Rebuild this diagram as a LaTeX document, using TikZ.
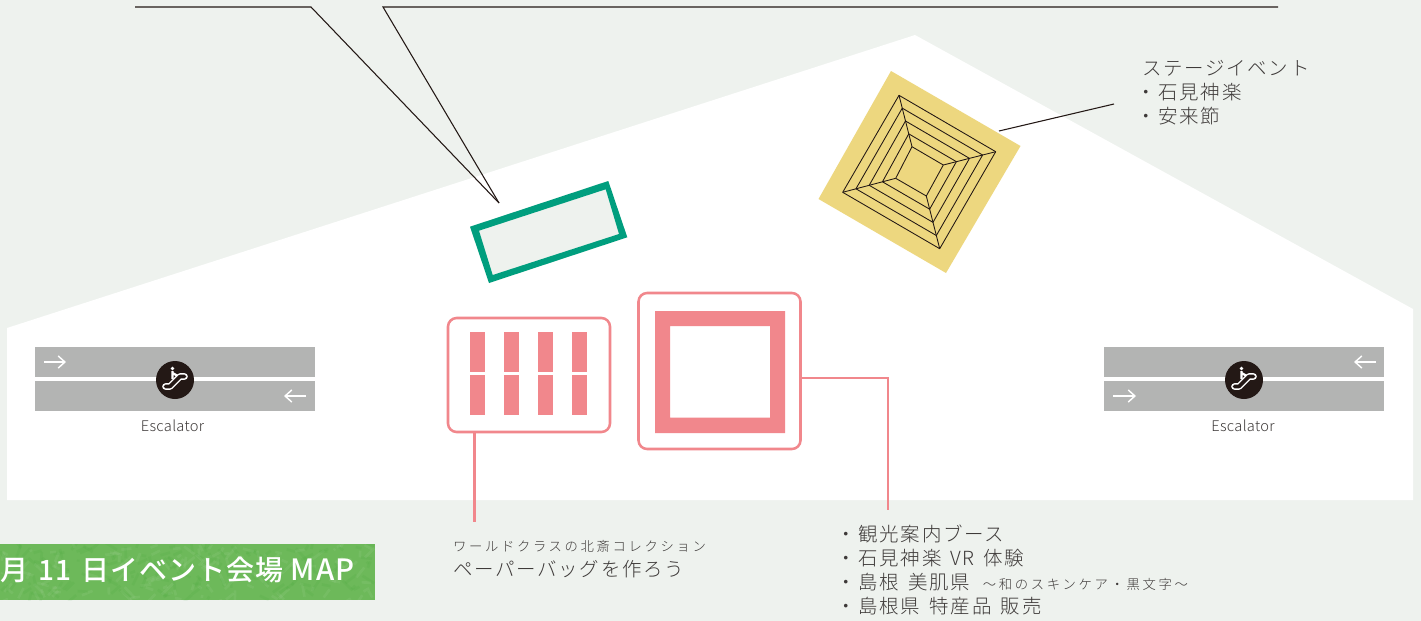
\documentclass[tikz,border=0pt]{standalone}
\usepackage{fontspec}
\usetikzlibrary{arrows.meta,calc}
\newfontfamily\jp[LetterSpace=9]{Noto Sans CJK JP Light}
\newfontfamily\jpsmall[LetterSpace=20]{Noto Sans CJK JP Light}
\newfontfamily\jplatin[LetterSpace=2]{Noto Sans CJK JP Light}
\newfontfamily\jpban[LetterSpace=3.4]{Noto Sans CJK JP Medium}
\newcommand{\bulmark}{\hspace*{-4.5pt}・\hspace{2.2pt}}
\newcommand{\wsp}{\hspace{7pt}}
\definecolor{bgc}{HTML}{EEF2EE}
\definecolor{pinkc}{HTML}{F1878C}
\definecolor{greenc}{HTML}{009E7E}
\definecolor{yellowc}{HTML}{EDD77F}
\definecolor{grayc}{HTML}{B3B4B3}
\definecolor{inkc}{HTML}{3E3A39}
\definecolor{blackc}{HTML}{231815}
\definecolor{banc}{HTML}{6DB95A}
\tikzset{
  pinkbar/.style={fill=pinkc,draw=none},
  boothbox/.style={draw=pinkc,line width=1.9pt,rounded corners=6.5pt,fill=white,inner sep=0pt,outer sep=0pt},
  pinkline/.style={draw=pinkc,line width=1.9pt},
  leader/.style={draw=blackc,line width=.8pt},
  stageline/.style={draw=blackc,line width=.65pt,line join=round},
  escbar/.style={fill=grayc,draw=none},
  escarrow/.style={draw=white,line width=1.3pt,-{Straight Barb[length=5pt,width=9pt,line width=1.1pt]}},
  lbl/.style={inner sep=0pt,outer sep=0pt,text=inkc,align=left,anchor=north west},
  esclbl/.style={inner sep=0pt,outer sep=0pt,text=inkc,font=\fontsize{11pt}{13pt}\jplatin},
  body/.style={lbl,font=\fontsize{14.6pt}{18pt}\jp},
  escicon/.pic={
    \draw[white,line width=5pt,line cap=round,line join=round] (-9.5,6.5) -- (-5,6.5) -- (5,-3.5) -- (9.5,-3.5);
    \draw[blackc,line width=2.7pt,line cap=round,line join=round] (-9.5,6.5) -- (-5,6.5) -- (5,-3.5) -- (9.5,-3.5);
    \fill[white] (-2.5,-11.5) circle (1.8);
    \draw[white,line width=1.7pt] (-2.5,-9) -- (-2.5,-1) (-2.5,-7) -- (2,-4.5);
  },
}
\begin{document}
\begin{tikzpicture}[x=0.75pt,y=-0.75pt]
\useasboundingbox (0,0) rectangle (1421,621);
\fill[bgc] (0,0) rectangle (1421,621);
\fill[white] (7,328) -- (915,35) -- (1413,309) -- (1413,500) -- (7,500) -- cycle;
% banner
\begin{scope}
\clip (0,544) rectangle (375,600);
\fill[banc] (0,544) rectangle (375,600);
\pgfmathsetseed{7}
\foreach \i in {1,...,300}{
  \pgfmathsetmacro{\xa}{rnd*375}
  \pgfmathsetmacro{\ya}{544+rnd*56}
  \pgfmathsetmacro{\dx}{(rnd-.5)*24}
  \pgfmathsetmacro{\dy}{(rnd-.5)*24}
  \pgfmathsetmacro{\w}{rnd}
  \ifdim\w pt>0.5pt
    \draw[white,opacity=.06,line width=2pt] (\xa,\ya) -- ++(\dx,\dy);
  \else
    \draw[green!55!black,opacity=.05,line width=2pt] (\xa,\ya) -- ++(\dx,\dy);
  \fi
}
\end{scope}
\node[inner sep=0pt,outer sep=0pt,anchor=west,text=white,font=\fontsize{21pt}{24pt}\jpban] (title) at (1,570) {月 \hspace{2pt}11 \hspace{2pt}日イベント会場 {\fontsize{22pt}{24pt}\selectfont MAP}};
% left escalator
\fill[escbar] (35,347) rectangle (315,377);
\fill[escbar] (35,381) rectangle (315,411);
\draw[escarrow] (44,362) -- (66,362);
\draw[escarrow] (306,396) -- (284,396);
\node[circle,fill=blackc,minimum size=28.5pt,inner sep=0pt,outer sep=0pt] (escL) at (175,380) {};
\pic at (escL.center) {escicon};
\node[esclbl] (escLlabel) at (172.5,425.5) {Escalator};
% right escalator
\fill[escbar] (1104,347) rectangle (1384,377);
\fill[escbar] (1104,381) rectangle (1384,411);
\draw[escarrow] (1376,362) -- (1354,362);
\draw[escarrow] (1113,396) -- (1136,396);
\node[circle,fill=blackc,minimum size=28.5pt,inner sep=0pt,outer sep=0pt] (escR) at (1244,380) {};
\pic at (escR.center) {escicon};
\node[esclbl] (escRlabel) at (1243,425.5) {Escalator};
% green rectangle
\fill[bgc] (608,181) -- (627,237) -- (489,283) -- (470,227) -- cycle;
\fill[greenc,even odd rule] (608.3,181) -- (627.3,237.3) -- (489,283) -- (470,226.7) -- cycle
  (605.7,189.3) -- (619,234) -- (492.7,275) -- (479,230.7) -- cycle;
\coordinate (greentip) at (499,203);
\coordinate (call1) at (135,7);
\coordinate (call1b) at (311,7);
\coordinate (call2) at (1278,7);
\coordinate (call2b) at (383,7);
\draw[leader] (call1) -- (call1b) -- (greentip);
\draw[leader] (call2) -- (call2b) -- (greentip);
% stage
\fill[yellowc] (891,71) -- (1020.5,146) -- (946,273) -- (818.5,199) -- cycle;
\coordinate (oT) at (899,95.3);
\coordinate (oR) at (995.7,151.7);
\coordinate (oB) at (939.7,248.7);
\coordinate (oL) at (842.7,192.3);
\coordinate (iT) at (912,146.7);
\coordinate (iR) at (943.3,165);
\coordinate (iB) at (926.3,196);
\coordinate (iL) at (895.7,178.3);
\foreach \t in {0,0.25,0.5,0.75,1}{
  \draw[stageline] ($(oT)!\t!(iT)$) -- ($(oR)!\t!(iR)$) -- ($(oB)!\t!(iB)$) -- ($(oL)!\t!(iL)$) -- cycle;
}
\draw[stageline] (oT) -- (iT) (oR) -- (iR) (oB) -- (iB) (oL) -- (iL);
\coordinate (stageA) at (999,131);
\coordinate (stageB) at (1114,104);
\draw[leader] (stageA) -- (stageB);
\node[body] (stagetext) at (1142,60) {ステージイベント\\\bulmark 石見神楽\\\bulmark 安来節};
% booths
\node[boothbox,minimum width=121.5pt,minimum height=85.5pt] (booth1) at (529,375) {};
\foreach \x in {470,504,538,572}{
  \fill[pinkbar] (\x,332) rectangle ++(15,40);
  \fill[pinkbar] (\x,375) rectangle ++(15,40);
}
\node[boothbox,minimum width=121.5pt,minimum height=117pt] (booth2) at (719.5,371) {};
\fill[pinkc,even odd rule] (655,311) rectangle (785,433) (670,326) rectangle (770,417.5);
\coordinate (b1end) at (474.3,522);
\draw[pinkline] (booth1.south -| b1end) -- (b1end);
\coordinate (b2turn) at (888,378);
\coordinate (b2end) at (888,510);
\draw[pinkline] (booth2.east |- b2turn) -- (b2turn) -- (b2end);
% booth 1 text
\node[lbl,font=\fontsize{10pt}{12pt}\jpsmall] (b1small) at (453,540.5) {ワールドクラスの北斎コレクション};
\node[lbl,font=\fontsize{14.6pt}{18pt}\jp] (b1text) at (453,560) {ペーパーバッグを作ろう};
% booth 2 text
\node[body] (b2text) at (842,525) {\bulmark 観光案内ブース\\\bulmark 石見神楽\hspace{2pt} VR\hspace{2pt} 体験\\\bulmark 島根\wsp 美肌県\hspace{9.5pt}{\fontsize{10pt}{18pt}\jpsmall ～和のスキンケア・黒文字～}\\\bulmark 島根県\wsp 特産品\wsp 販売};
\end{tikzpicture}
\end{document}
